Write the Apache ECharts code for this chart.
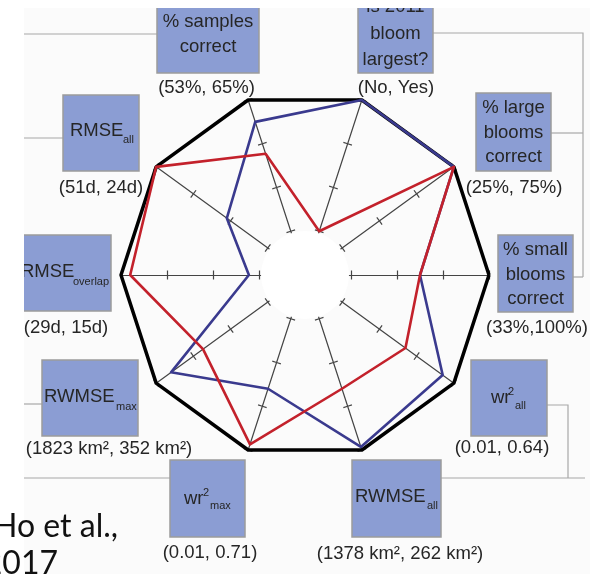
<!DOCTYPE html>
<html>
<head>
<meta charset="utf-8">
<script src="https://cdn.jsdelivr.net/npm/echarts@6/dist/echarts.min.js"></script>
<style>
  html, body { margin: 0; padding: 0; background: #ffffff; }
  #chart { width: 596px; height: 578px; }
</style>
</head>
<body>
<div id="chart"></div>
<script>
// Ten verification metrics, placed counter-clockwise starting from the right-hand axis.
// Scores run from 0 (worst end of the range, inner end of an axis) to 3 (best end, outer frame).
const metrics = [
  '% small blooms correct', '% large blooms correct', 'is 2011 bloom largest?',
  '% samples correct', 'RMSE all', 'RMSE overlap', 'RWMSE max', 'wr² max',
  'RWMSE all', 'wr² all'
];
// (worst, best) range written under each metric box
const rangeLabels = [
  '(33%,100%)', '(25%, 75%)', '(No, Yes)', '(53%, 65%)', '(51d, 24d)',
  '(29d, 15d)', '(1823 km², 352 km²)', '(0.01, 0.71)', '(1378 km², 262 km²)', '(0.01, 0.64)'
];
// Text drawn inside each metric box
const titleParts = [
  { lines: ['% small', 'blooms', 'correct'] },
  { lines: ['% large', 'blooms', 'correct'] },
  { lines: ['is 2011', 'bloom', 'largest?'] },
  { lines: ['% samples', 'correct'] },
  { main: 'RMSE', sub: 'all' },
  { main: 'RMSE', sub: 'overlap' },
  { main: 'RWMSE', sub: 'max' },
  { main: 'wr', sup: '2', sub: 'max' },
  { main: 'RWMSE', sub: 'all' },
  { main: 'wr', sup: '2', sub: 'all' }
];
const axisMin = -1;           // hidden hub value, keeps the centre open
const axisMax = 3;
const frameScores = [3, 3, 3, 3, 3, 3, 3, 3, 3, 3];
const blueScores  = [1.5, 3, 3, 2.5, 1.1, 0.22, 2.6, 1.6, 2.93, 2.7];
const redScores   = [1.5, 3, 0, 1.77, 3, 2.8, 1.74, 2.87, 1.6, 1.7];
const citation = ['Ho et al.,', '2017'];

// ---- layout of the labelled boxes ----
const boxLayout = [
  { x: 498, y: 235, w: 75, h: 77, cx: 535.5, ly: [250, 274.5, 299], label: [537, 328] },
  { x: 476, y: 93,  w: 75, h: 78, cx: 513.5, ly: [108, 133, 157],   label: [514, 188] },
  { x: 358, y: -30, w: 75, h: 103, cx: 395.5, ly: [7, 33.5, 60],    label: [396, 88] },
  { x: 157, y: -20, w: 102, h: 93, cx: 208,  ly: [21.5, 47],        label: [206.5, 88] },
  { x: 63,  y: 95,  w: 76, h: 76, tx: 70,  ty: 131, sx: 123, sy: 140, label: [101, 188] },
  { x: 10,  y: 235, w: 101, h: 76, tx: 21, ty: 272, sx: 73,  sy: 282, label: [66, 328] },
  { x: 42,  y: 360, w: 96, h: 76, tx: 44,  ty: 397, sx: 116, sy: 407, label: [109, 449] },
  { x: 170, y: 460, w: 75, h: 77, tx: 184, ty: 499, px: 203, py: 493, sx: 210, sy: 506, label: [210, 553] },
  { x: 352, y: 460, w: 89, h: 77, tx: 355, ty: 497, sx: 427, sy: 506, label: [400, 554] },
  { x: 471, y: 360, w: 76, h: 76, tx: 491, ty: 398, px: 508, py: 392, sx: 515, sy: 406, label: [502, 448] }
];
const connectorPaths = [
  [[24, 34], [157, 34]],
  [[24, 138], [63, 138]],
  [[24, 404], [42, 404]],
  [[24, 478], [170, 478]],
  [[433, 33], [583, 33], [583, 277]],
  [[551, 133], [583, 133]],
  [[573, 277], [583, 277]],
  [[547, 405], [568, 405], [568, 478]],
  [[441, 478], [585, 478]]
];

const FONT = '"Liberation Sans", Arial, Helvetica, sans-serif';
const TEXT_COLOR = '#262626';
const BOX_FILL = '#8b9dd3';
const BOX_STROKE = '#9c9c9c';

function textEl(str, x, y, size, align, z, font, color) {
  return {
    type: 'text', x: x, y: y, z: z || 6, silent: true,
    style: {
      text: str, font: size + 'px ' + (font || FONT), fill: color || TEXT_COLOR,
      align: align, verticalAlign: 'middle',
      textAlign: align, textVerticalAlign: 'middle'
    }
  };
}

const graphics = [];
// faint page tone of the figure panel
graphics.push({ type: 'rect', z: -5, silent: true,
  shape: { x: 24, y: 8, width: 566, height: 566 }, style: { fill: '#fbfbfb' } });
// open hub in the middle of the web
graphics.push({ type: 'circle', z: 2, silent: true,
  shape: { cx: 305, cy: 275, r: 44 }, style: { fill: '#ffffff' } });

connectorPaths.forEach(function (pts) {
  graphics.push({ type: 'polyline', z: 3, silent: true,
    shape: { points: pts }, style: { stroke: '#a8a8a8', lineWidth: 1.2, fill: null } });
});

boxLayout.forEach(function (b, i) {
  graphics.push({ type: 'rect', z: 4, silent: true,
    shape: { x: b.x, y: b.y, width: b.w, height: b.h },
    style: { fill: BOX_FILL, stroke: BOX_STROKE, lineWidth: 1.5 } });
  const t = titleParts[i];
  if (t.lines) {
    t.lines.forEach(function (ln, k) {
      graphics.push(textEl(ln, b.cx, b.ly[k], 18.5, 'center'));
    });
  } else {
    graphics.push(textEl(t.main, b.tx, b.ty, 18.5, 'left'));
    if (t.sup) graphics.push(textEl(t.sup, b.px, b.py, 11, 'left'));
    graphics.push(textEl(t.sub, b.sx, b.sy, 11, 'left'));
  }
  graphics.push(textEl(rangeLabels[i], b.label[0], b.label[1], 18.5, 'center'));
});

// trim the panel edges
graphics.push({ type: 'rect', z: 20, silent: true, shape: { x: 0, y: 0, width: 596, height: 8 }, style: { fill: '#ffffff' } });
graphics.push({ type: 'rect', z: 20, silent: true, shape: { x: 0, y: 0, width: 24, height: 460 }, style: { fill: '#ffffff' } });
graphics.push({ type: 'rect', z: 20, silent: true, shape: { x: 590, y: 0, width: 6, height: 578 }, style: { fill: '#ffffff' } });

// citation on the slide
const CITE_FONT = 'Lato, "Open Sans", sans-serif';
graphics.push(textEl(citation[0], 118, 527, 32, 'right', 21, CITE_FONT, '#111111'));
graphics.push(textEl(citation[1], 58, 564, 32, 'right', 21, CITE_FONT, '#111111'));

const indicator = metrics.map(function (m) { return { name: m, min: axisMin, max: axisMax }; });
const axisColor = '#444444';
// two stacked radar frames: one draws the spokes and ticks on one side,
// the other adds the opposite half of every tick so marks straddle the spoke
function radarCfg(tickLen, showLine) {
  return {
    z: 1,
    center: [305, 275],
    radius: 184,
    startAngle: 0,
    splitNumber: axisMax - axisMin,
    shape: 'polygon',
    indicator: indicator,
    axisName: { show: false },
    axisLine: { show: showLine, lineStyle: { color: axisColor, width: 1.2 } },
    axisTick: { show: true, length: tickLen, lineStyle: { color: axisColor, width: 1.2 } },
    axisLabel: { show: false },
    splitLine: { show: false },
    splitArea: { show: false }
  };
}

const chart = echarts.init(document.getElementById('chart'), null, { renderer: 'canvas' });
chart.setOption({
  animation: false,
  backgroundColor: '#ffffff',
  radar: [radarCfg(4.5, true), radarCfg(-4.5, false)],
  graphic: { elements: graphics },
  series: [{
    type: 'radar',
    radarIndex: 0,
    z: 3,
    symbol: 'none',
    silent: true,
    data: [
      { value: frameScores, name: 'frame', lineStyle: { color: '#000000', width: 3.5 } },
      { value: blueScores, name: 'blue', lineStyle: { color: '#3a3a8e', width: 2.6 } },
      { value: redScores, name: 'red', lineStyle: { color: '#c3212b', width: 2.6 } }
    ]
  }]
});
</script>
</body>
</html>
